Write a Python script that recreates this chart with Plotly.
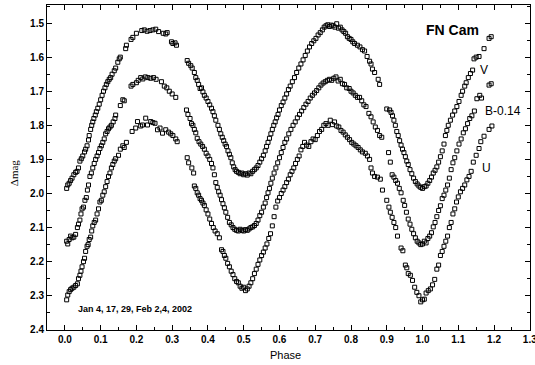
import plotly.graph_objects as go

# ---------------- data (phase, delta mag) ----------------
v_phase = [0.005,0.008,0.012,0.016,0.020,0.025,0.030,0.034,0.038,0.042,0.046,0.050,0.055,0.058,0.062,0.066,0.068,0.072,0.075,0.078,
           0.081,0.085,0.088,0.092,0.096,0.100,0.104,0.108,0.112,0.116,0.120,0.124,0.128,0.132,0.138,0.142,0.148,0.152,0.155,0.170,
           0.172,0.185,0.190,0.200,0.215,0.222,0.230,0.238,0.246,0.254,0.262,0.275,0.282,0.286,0.298,0.302,0.308,0.312,
           0.342,0.346,0.352,0.356,0.362,0.366,0.370,0.374,0.378,0.382,0.386,0.390,0.395,0.400,0.405,0.410,0.414,0.418,0.422,0.428,
           0.432,0.436,0.440,0.444,0.448,0.452,0.456,0.460,0.464,0.468,0.472,0.476,0.480,0.485,0.490,0.495,0.500,0.505,0.510,0.515,
           0.520,0.525,0.530,0.535,0.540,0.545,0.550,0.555,0.560,0.564,0.568,0.572,0.576,0.580,0.584,0.588,0.592,0.596,0.600,0.605,
           0.610,0.615,0.620,0.625,0.630,0.636,0.642,0.648,0.654,0.660,0.666,0.672,0.678,0.684,0.690,0.696,0.702,0.708,0.714,0.720,
           0.725,0.730,0.735,0.740,0.745,0.750,0.755,0.760,0.765,0.770,0.775,0.780,0.785,0.790,0.795,0.800,0.805,0.810,0.818,0.825,
           0.832,0.838,0.845,0.852,0.856,0.860,0.866,0.876,0.880,
           0.900,0.908,0.912,0.916,0.920,0.924,0.928,0.932,0.936,0.940,0.944,0.948,0.952,0.956,0.960,0.965,0.970,0.975,0.980,0.985,
           0.990,0.995,1.000,1.005,1.010,1.015,1.020,1.025,1.030,1.035,1.040,1.045,1.050,1.055,1.060,1.064,1.068,1.072,1.078,1.084,
           1.090,1.096,1.102,1.108,1.112,1.118,1.122,1.128,1.134,1.140,1.144,1.150,1.158,1.172,1.186,1.192]
v_mag = [1.985,1.975,1.970,1.962,1.955,1.945,1.938,1.935,1.925,1.905,1.898,1.890,1.878,1.870,1.860,1.843,1.830,1.812,1.800,1.790,
         1.780,1.770,1.760,1.750,1.738,1.725,1.712,1.700,1.690,1.680,1.672,1.665,1.660,1.650,1.640,1.632,1.615,1.605,1.600,1.575,
         1.565,1.548,1.542,1.530,1.522,1.520,1.524,1.522,1.520,1.518,1.525,1.530,1.532,1.528,1.555,1.560,1.558,1.565,
         1.610,1.618,1.625,1.632,1.645,1.660,1.668,1.680,1.692,1.690,1.702,1.712,1.720,1.730,1.740,1.750,1.760,1.772,1.785,1.800,
         1.812,1.825,1.835,1.845,1.855,1.862,1.875,1.885,1.895,1.910,1.922,1.930,1.935,1.938,1.942,1.940,1.945,1.942,1.946,1.940,
         1.942,1.935,1.930,1.925,1.918,1.908,1.898,1.888,1.875,1.862,1.850,1.838,1.825,1.812,1.800,1.790,1.778,1.768,1.755,1.742,
         1.732,1.720,1.708,1.695,1.685,1.672,1.660,1.645,1.632,1.620,1.608,1.595,1.582,1.570,1.560,1.552,1.545,1.535,1.528,1.520,
         1.512,1.508,1.505,1.510,1.506,1.508,1.512,1.502,1.515,1.512,1.520,1.525,1.530,1.540,1.545,1.548,1.555,1.560,1.565,1.570,
         1.578,1.582,1.598,1.612,1.620,1.635,1.645,1.665,1.680,
         1.752,1.755,1.762,1.772,1.785,1.800,1.818,1.830,1.845,1.858,1.870,1.880,1.892,1.905,1.915,1.930,1.942,1.955,1.965,1.972,
         1.978,1.982,1.985,1.980,1.978,1.970,1.962,1.952,1.940,1.932,1.922,1.908,1.892,1.875,1.855,1.830,1.815,1.800,1.785,1.770,
         1.758,1.745,1.730,1.712,1.700,1.685,1.675,1.660,1.648,1.638,1.605,1.600,1.598,1.575,1.545,1.540]

b_phase = [0.005,0.008,0.012,0.016,0.020,0.025,0.030,0.035,0.038,0.042,0.045,0.048,0.052,0.056,0.060,0.063,0.066,0.070,0.074,0.078,
           0.082,0.086,0.090,0.094,0.098,0.102,0.106,0.110,0.114,0.118,0.122,0.126,0.130,0.135,0.140,0.142,0.155,0.162,0.166,0.185,
           0.190,0.200,0.205,0.212,0.218,0.225,0.232,0.240,0.248,0.255,0.270,0.278,0.285,0.292,0.300,0.310,
           0.340,0.344,0.350,0.354,0.358,0.362,0.366,0.370,0.375,0.380,0.385,0.390,0.395,0.400,0.405,0.410,0.414,0.418,0.422,0.426,
           0.430,0.434,0.438,0.442,0.446,0.450,0.455,0.460,0.465,0.470,0.475,0.480,0.485,0.490,0.495,0.500,0.505,0.510,0.515,0.520,
           0.525,0.530,0.535,0.540,0.545,0.550,0.555,0.560,0.564,0.568,0.572,0.576,0.580,0.585,0.590,0.595,0.600,0.605,0.610,0.615,
           0.620,0.626,0.632,0.638,0.644,0.650,0.656,0.662,0.668,0.674,0.680,0.686,0.692,0.698,0.704,0.710,0.716,0.722,0.728,0.734,
           0.740,0.746,0.752,0.758,0.764,0.770,0.776,0.782,0.788,0.795,0.800,0.806,0.812,0.818,0.824,0.830,0.836,0.842,0.850,0.856,
           0.862,0.868,0.874,0.880,0.886,
           0.905,0.910,0.915,0.920,0.925,0.930,0.935,0.940,0.946,0.950,0.955,0.960,0.965,0.970,0.975,0.980,0.985,0.990,0.995,1.000,
           1.005,1.010,1.015,1.020,1.025,1.030,1.035,1.040,1.045,1.050,1.055,1.060,1.065,1.070,1.075,1.080,1.085,1.090,1.096,1.102,
           1.108,1.114,1.120,1.126,1.132,1.138,1.145,1.152,1.160,1.165,1.186,1.192]
b_mag = [2.140,2.148,2.135,2.125,2.130,2.128,2.120,2.100,2.090,2.078,2.060,2.045,2.040,2.020,2.012,1.990,1.975,1.950,1.940,1.925,
         1.912,1.900,1.890,1.880,1.868,1.860,1.850,1.840,1.825,1.818,1.810,1.805,1.800,1.790,1.780,1.770,1.742,1.725,1.728,1.685,
         1.680,1.675,1.668,1.660,1.664,1.658,1.660,1.662,1.660,1.665,1.672,1.685,1.690,1.700,1.708,1.718,
         1.755,1.768,1.780,1.795,1.800,1.812,1.822,1.838,1.848,1.855,1.862,1.870,1.882,1.890,1.900,1.912,1.925,1.945,1.968,1.982,
         1.995,2.005,2.018,2.030,2.042,2.055,2.070,2.085,2.092,2.100,2.105,2.108,2.110,2.105,2.108,2.110,2.106,2.108,2.104,2.100,
         2.098,2.094,2.088,2.078,2.065,2.055,2.040,2.028,2.012,1.998,1.985,1.970,1.955,1.940,1.925,1.910,1.895,1.880,1.865,1.850,
         1.840,1.825,1.812,1.800,1.790,1.778,1.768,1.758,1.748,1.738,1.730,1.720,1.712,1.705,1.698,1.690,1.682,1.676,1.672,1.668,
         1.665,1.668,1.662,1.658,1.670,1.665,1.678,1.680,1.690,1.692,1.700,1.705,1.712,1.718,1.718,1.728,1.740,1.745,1.765,1.775,
         1.790,1.805,1.815,1.830,1.835,
         1.880,1.908,1.945,1.952,1.962,1.970,1.985,1.998,2.020,2.035,2.055,2.075,2.090,2.105,2.118,2.130,2.140,2.145,2.150,2.148,
         2.140,2.145,2.132,2.125,2.115,2.098,2.085,2.068,2.050,2.036,2.015,2.005,1.990,1.975,1.955,1.930,1.910,1.895,1.875,1.855,
         1.840,1.822,1.810,1.795,1.780,1.772,1.758,1.722,1.712,1.720,1.682,1.678]

u_phase = [0.005,0.008,0.012,0.016,0.020,0.025,0.030,0.035,0.038,0.042,0.045,0.048,0.052,0.055,0.058,0.062,0.065,0.068,0.072,0.075,
           0.078,0.082,0.086,0.090,0.094,0.098,0.102,0.106,0.110,0.114,0.118,0.122,0.126,0.130,0.134,0.138,0.142,0.150,0.155,0.162,
           0.166,0.172,0.188,0.198,0.203,0.212,0.217,0.226,0.231,0.240,0.246,0.252,0.259,0.266,0.273,0.282,0.290,0.296,0.302,0.310,0.314,
           0.342,0.346,0.355,0.360,0.362,0.366,0.370,0.374,0.378,0.382,0.386,0.390,0.395,0.400,0.405,0.410,0.415,0.420,0.426,0.432,
           0.438,0.442,0.446,0.450,0.455,0.460,0.465,0.470,0.475,0.480,0.485,0.490,0.495,0.500,0.505,0.510,0.515,0.520,0.525,0.530,
           0.535,0.540,0.545,0.550,0.555,0.560,0.565,0.570,0.575,0.580,0.585,0.590,0.595,0.600,0.605,0.610,0.615,0.620,0.625,0.630,
           0.635,0.640,0.645,0.650,0.655,0.660,0.665,0.670,0.676,0.682,0.688,0.694,0.700,0.706,0.712,0.718,0.724,0.730,0.736,0.742,
           0.748,0.754,0.760,0.766,0.772,0.778,0.784,0.790,0.796,0.802,0.808,0.814,0.820,0.826,0.832,0.840,0.846,0.852,0.856,0.860,
           0.866,0.874,0.882,0.888,0.900,0.906,0.910,0.915,0.920,0.925,0.930,0.940,0.945,0.952,0.956,0.960,0.966,0.972,0.978,0.984,
           0.990,0.995,1.000,1.005,1.010,1.016,1.022,1.028,1.034,1.040,1.045,1.050,1.055,1.060,1.065,1.070,1.075,1.080,1.085,1.090,
           1.095,1.100,1.106,1.112,1.118,1.124,1.130,1.136,1.142,1.150,1.158,1.163,1.172,1.186,1.194]
u_mag = [2.312,2.298,2.288,2.282,2.278,2.275,2.270,2.265,2.250,2.240,2.228,2.215,2.200,2.190,2.170,2.155,2.150,2.135,2.128,2.110,
         2.095,2.085,2.078,2.060,2.045,2.025,2.020,2.005,1.995,1.980,1.965,1.950,1.940,1.925,1.915,1.905,1.898,1.888,1.870,1.860,
         1.865,1.850,1.818,1.808,1.789,1.802,1.799,1.779,1.799,1.789,1.792,1.794,1.813,1.808,1.823,1.813,1.820,1.825,1.830,1.840,1.848,
         1.895,1.910,1.925,1.940,1.978,1.985,1.998,2.005,2.015,2.020,2.028,2.035,2.048,2.060,2.075,2.088,2.100,2.110,2.118,2.130,
         2.165,2.170,2.182,2.190,2.205,2.215,2.228,2.238,2.250,2.258,2.262,2.272,2.278,2.275,2.285,2.280,2.272,2.262,2.250,2.235,
         2.222,2.208,2.195,2.182,2.172,2.160,2.148,2.132,2.118,2.095,2.068,2.040,2.022,2.012,2.000,1.990,1.980,1.968,1.958,1.945,
         1.935,1.925,1.912,1.900,1.890,1.872,1.862,1.850,1.858,1.862,1.848,1.840,1.842,1.830,1.818,1.812,1.800,1.795,1.800,1.785,
         1.798,1.790,1.802,1.805,1.815,1.820,1.828,1.835,1.842,1.850,1.855,1.860,1.865,1.872,1.878,1.882,1.890,1.900,1.925,1.940,
         1.950,1.952,1.958,1.990,2.020,2.040,2.055,2.070,2.085,2.100,2.125,2.160,2.168,2.210,2.218,2.235,2.240,2.255,2.275,2.290,
         2.300,2.318,2.312,2.310,2.292,2.285,2.280,2.268,2.252,2.222,2.210,2.182,2.170,2.155,2.140,2.125,2.100,2.085,2.060,2.045,
         2.025,2.010,1.995,1.985,1.975,1.960,1.950,1.935,1.908,1.888,1.868,1.848,1.832,1.812,1.802]

x_ticks = [0.0, 0.1, 0.2, 0.3, 0.4, 0.5, 0.6, 0.7, 0.8, 0.9, 1.0, 1.1, 1.2, 1.3]
y_ticks = [1.5, 1.6, 1.7, 1.8, 1.9, 2.0, 2.1, 2.2, 2.3, 2.4]

# ---------------- figure ----------------
marker = dict(symbol="square-open", size=4, color="black", line=dict(width=1, color="black"))
fig = go.Figure()
for name, xs, ys in [("V", v_phase, v_mag), ("B-0.14", b_phase, b_mag), ("U", u_phase, u_mag)]:
    fig.add_trace(go.Scatter(x=xs, y=ys, mode="markers", name=name, marker=marker, showlegend=False))

tickfont = dict(family="Liberation Sans, Arial, sans-serif", size=10, color="black", weight="bold")
axis_common = dict(showgrid=False, zeroline=False, showline=True, linecolor="black", linewidth=1,
                   mirror="ticks", ticks="inside", ticklen=5, tickwidth=1, tickcolor="black",
                   tickfont=tickfont, automargin=False, ticklabeloverflow="allow")

fig.update_xaxes(range=[-0.05, 1.3005], tickvals=x_ticks, ticktext=[f"{t:.1f}" for t in x_ticks],
                 minor=dict(dtick=0.05, tick0=0, ticks="inside", ticklen=3, tickcolor="black", showgrid=False),
                 **axis_common)
fig.update_yaxes(range=[2.4005, 1.447], tickvals=y_ticks, ticktext=[f"{t:.1f}" for t in y_ticks],
                 minor=dict(dtick=0.05, tick0=0, ticks="inside", ticklen=3, tickcolor="black", showgrid=False),
                 **axis_common)

txt = dict(family="Liberation Sans, Arial, sans-serif", color="black")
fig.add_annotation(x=1.083, y=1.52, xref="x", yref="y", text="<b>FN Cam</b>", showarrow=False,
                   font=dict(size=14, **txt))
fig.add_annotation(x=1.172, y=1.637, xref="x", yref="y", text="V", showarrow=False,
                   font=dict(size=12, **txt))
fig.add_annotation(x=1.168, y=1.758, xref="x", yref="y", text="B-0.14", showarrow=False, xanchor="left",
                   font=dict(size=12, **txt))
fig.add_annotation(x=1.178, y=1.925, xref="x", yref="y", text="U", showarrow=False,
                   font=dict(size=12, **txt))
fig.add_annotation(x=0.030, y=2.339, xref="x", yref="y", text="<b>Jan 4, 17, 29, Feb 2,4, 2002</b>",
                   showarrow=False, xanchor="left", yanchor="middle", font=dict(size=9, **txt))
fig.add_annotation(x=0.616, y=-0.077, xref="x", yref="paper", text="Phase", showarrow=False,
                   xanchor="center", yanchor="middle", font=dict(size=11, **txt))
fig.add_annotation(x=-0.068, y=1.94, xref="paper", yref="y", text="Δmag", showarrow=False, textangle=-90,
                   xanchor="center", yanchor="middle",
                   font=dict(size=11, family="Liberation Serif, Times New Roman, serif", color="black"))

fig.update_layout(width=535, height=365, margin=dict(l=47, r=5, t=5, b=35),
                  plot_bgcolor="white", paper_bgcolor="white")

fig.write_html("out.html", config={"responsive": False, "displayModeBar": False},
               post_script="document.body.style.margin='0';document.body.style.overflow='hidden';")
